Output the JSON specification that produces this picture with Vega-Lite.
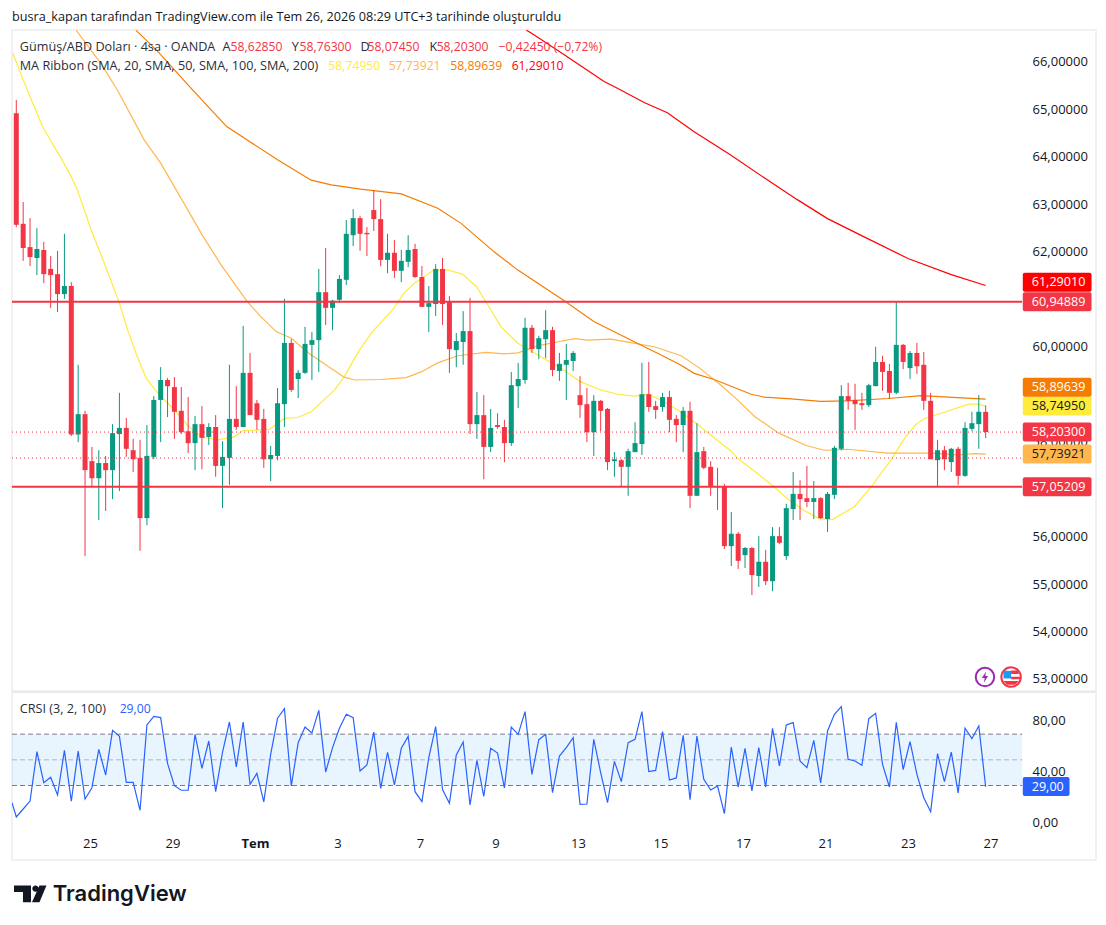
{
  "$schema": "https://vega.github.io/schema/vega-lite/v6.json",
  "background": "#ffffff",
  "padding": {"left": 10, "top": 11, "right": 0, "bottom": 0},
  "title": {
    "text": "busra_kapan tarafından TradingView.com ile Tem 26, 2026 08:29 UTC+3 tarihinde oluşturuldu",
    "anchor": "start",
    "frame": "group",
    "font": "Open Sans",
    "fontSize": 12.65,
    "fontWeight": "normal",
    "color": "#131722",
    "offset": 5
  },
  "config": {
    "view": {"stroke": "#f0f1f3", "strokeWidth": 2},
    "axis": {"domain": false, "ticks": false, "grid": false, "labelFont": "Open Sans", "labelColor": "#131722"},
    "text": {"font": "Open Sans", "fontSize": 12.2, "align": "left", "baseline": "middle"}
  },
  "datasets": {
    "one": [{}],
    "candles": [
      {"bar":0,"open":64.92,"high":65.2,"low":62.52,"close":62.57},
      {"bar":1,"open":62.59,"high":63.05,"low":61.81,"close":62.08},
      {"bar":2,"open":62.1,"high":62.71,"low":61.7,"close":61.89},
      {"bar":3,"open":61.87,"high":62.5,"low":61.51,"close":62.06},
      {"bar":4,"open":62.04,"high":62.21,"low":61.34,"close":61.53},
      {"bar":5,"open":61.64,"high":61.91,"low":60.82,"close":61.51},
      {"bar":6,"open":61.53,"high":62.02,"low":60.73,"close":61.11},
      {"bar":7,"open":61.11,"high":62.38,"low":61.01,"close":61.28},
      {"bar":8,"open":61.28,"high":61.36,"low":58.12,"close":58.15},
      {"bar":9,"open":58.15,"high":59.62,"low":57.99,"close":58.58},
      {"bar":10,"open":58.58,"high":58.65,"low":55.59,"close":57.4},
      {"bar":11,"open":57.59,"high":57.89,"low":57.05,"close":57.23},
      {"bar":12,"open":57.23,"high":57.82,"low":56.35,"close":57.55},
      {"bar":13,"open":57.55,"high":57.7,"low":56.54,"close":57.4},
      {"bar":14,"open":57.4,"high":58.37,"low":56.79,"close":58.18},
      {"bar":15,"open":58.16,"high":59.03,"low":56.96,"close":58.29},
      {"bar":16,"open":58.29,"high":58.5,"low":57.68,"close":57.85},
      {"bar":17,"open":57.82,"high":58.06,"low":57.36,"close":57.63},
      {"bar":18,"open":57.66,"high":58.04,"low":55.7,"close":56.39},
      {"bar":19,"open":56.39,"high":58.35,"low":56.24,"close":57.7},
      {"bar":20,"open":57.68,"high":58.96,"low":57.63,"close":58.88},
      {"bar":21,"open":58.88,"high":59.57,"low":57.99,"close":59.3},
      {"bar":22,"open":59.3,"high":59.34,"low":58.52,"close":59.17},
      {"bar":23,"open":59.15,"high":59.36,"low":58.06,"close":58.63},
      {"bar":24,"open":58.65,"high":59.15,"low":58.16,"close":58.2},
      {"bar":25,"open":58.22,"high":58.94,"low":57.76,"close":57.97},
      {"bar":26,"open":57.97,"high":58.54,"low":57.4,"close":58.37},
      {"bar":27,"open":58.37,"high":58.75,"low":57.42,"close":58.08},
      {"bar":28,"open":58.1,"high":58.39,"low":57.93,"close":58.31},
      {"bar":29,"open":58.31,"high":58.56,"low":57.26,"close":57.49},
      {"bar":30,"open":57.49,"high":58.01,"low":56.6,"close":57.68},
      {"bar":31,"open":57.66,"high":59.62,"low":57.09,"close":58.48},
      {"bar":32,"open":58.48,"high":59.17,"low":58.25,"close":58.31},
      {"bar":33,"open":58.31,"high":60.44,"low":58.31,"close":59.45},
      {"bar":34,"open":59.45,"high":59.87,"low":58.56,"close":58.56},
      {"bar":35,"open":58.81,"high":58.88,"low":58.25,"close":58.46},
      {"bar":36,"open":58.48,"high":58.69,"low":57.45,"close":57.63},
      {"bar":37,"open":57.63,"high":57.91,"low":57.17,"close":57.72},
      {"bar":38,"open":57.7,"high":59.13,"low":57.61,"close":58.81},
      {"bar":39,"open":58.79,"high":61.01,"low":58.31,"close":60.08},
      {"bar":40,"open":60.08,"high":60.16,"low":59.05,"close":59.09},
      {"bar":41,"open":59.32,"high":59.51,"low":58.92,"close":59.45},
      {"bar":42,"open":59.45,"high":60.42,"low":59.43,"close":60.06},
      {"bar":43,"open":60.04,"high":60.31,"low":59.3,"close":60.14},
      {"bar":44,"open":60.14,"high":61.64,"low":59.47,"close":61.15},
      {"bar":45,"open":61.15,"high":62.08,"low":60.46,"close":60.82},
      {"bar":46,"open":60.82,"high":60.99,"low":60.35,"close":60.97},
      {"bar":47,"open":60.99,"high":61.51,"low":60.94,"close":61.43},
      {"bar":48,"open":61.41,"high":62.67,"low":61.3,"close":62.38},
      {"bar":49,"open":62.35,"high":62.9,"low":62.12,"close":62.71},
      {"bar":50,"open":62.71,"high":62.76,"low":62.02,"close":62.38},
      {"bar":51,"open":62.4,"high":62.52,"low":61.91,"close":62.37},
      {"bar":52,"open":62.88,"high":63.3,"low":62.44,"close":62.69},
      {"bar":53,"open":62.69,"high":63.11,"low":61.7,"close":61.83},
      {"bar":54,"open":61.83,"high":62.38,"low":61.55,"close":61.98},
      {"bar":55,"open":61.98,"high":62.25,"low":61.45,"close":61.6},
      {"bar":56,"open":61.6,"high":62.04,"low":61.36,"close":61.81},
      {"bar":57,"open":61.79,"high":62.35,"low":61.68,"close":62.04},
      {"bar":58,"open":62.06,"high":62.17,"low":61.45,"close":61.47},
      {"bar":59,"open":61.47,"high":61.7,"low":60.84,"close":60.84},
      {"bar":60,"open":60.84,"high":61.28,"low":60.31,"close":60.92},
      {"bar":61,"open":60.9,"high":61.74,"low":60.65,"close":61.64},
      {"bar":62,"open":61.64,"high":61.87,"low":60.46,"close":60.9},
      {"bar":63,"open":60.94,"high":61.07,"low":59.45,"close":59.95},
      {"bar":64,"open":59.93,"high":60.29,"low":59.57,"close":60.12},
      {"bar":65,"open":60.1,"high":60.75,"low":59.62,"close":60.33},
      {"bar":66,"open":60.33,"high":61.03,"low":58.16,"close":58.37},
      {"bar":67,"open":58.37,"high":59.05,"low":58.06,"close":58.56},
      {"bar":68,"open":58.56,"high":58.98,"low":57.21,"close":57.89},
      {"bar":69,"open":57.89,"high":58.69,"low":57.78,"close":58.29},
      {"bar":70,"open":58.35,"high":58.6,"low":58.27,"close":58.31},
      {"bar":71,"open":58.31,"high":58.46,"low":57.57,"close":57.97},
      {"bar":72,"open":57.97,"high":59.47,"low":57.91,"close":59.19},
      {"bar":73,"open":59.17,"high":59.66,"low":58.71,"close":59.32},
      {"bar":74,"open":59.3,"high":60.61,"low":59.22,"close":60.4},
      {"bar":75,"open":60.4,"high":60.46,"low":59.87,"close":59.95},
      {"bar":76,"open":59.95,"high":60.23,"low":59.74,"close":60.18},
      {"bar":77,"open":60.16,"high":60.77,"low":59.76,"close":60.35},
      {"bar":78,"open":60.35,"high":60.42,"low":59.38,"close":59.51},
      {"bar":79,"open":59.49,"high":59.87,"low":59.28,"close":59.64},
      {"bar":80,"open":59.62,"high":60.06,"low":58.88,"close":59.72},
      {"bar":81,"open":59.7,"high":59.91,"low":59.49,"close":59.87},
      {"bar":82,"open":58.98,"high":59.38,"low":58.5,"close":58.77},
      {"bar":83,"open":58.79,"high":59.13,"low":57.99,"close":58.2},
      {"bar":84,"open":58.2,"high":58.98,"low":57.7,"close":58.86},
      {"bar":85,"open":58.86,"high":58.88,"low":58.22,"close":58.65},
      {"bar":86,"open":58.69,"high":58.71,"low":57.4,"close":57.57},
      {"bar":87,"open":57.59,"high":57.78,"low":57.26,"close":57.63},
      {"bar":88,"open":57.61,"high":57.63,"low":57.05,"close":57.47},
      {"bar":89,"open":57.47,"high":57.85,"low":56.86,"close":57.8},
      {"bar":90,"open":57.78,"high":58.41,"low":57.78,"close":57.97},
      {"bar":91,"open":57.95,"high":59.66,"low":57.72,"close":59},
      {"bar":92,"open":59,"high":59.68,"low":58.63,"close":58.73},
      {"bar":93,"open":58.75,"high":58.86,"low":58.48,"close":58.67},
      {"bar":94,"open":58.73,"high":59.03,"low":58.63,"close":58.94},
      {"bar":95,"open":58.94,"high":59.07,"low":58.2,"close":58.46},
      {"bar":96,"open":58.48,"high":58.56,"low":57.99,"close":58.35},
      {"bar":97,"open":58.35,"high":58.73,"low":57.78,"close":58.65},
      {"bar":98,"open":58.65,"high":58.84,"low":56.6,"close":56.86},
      {"bar":99,"open":56.86,"high":58.39,"low":56.86,"close":57.78},
      {"bar":100,"open":57.8,"high":57.89,"low":57.42,"close":57.45},
      {"bar":101,"open":57.47,"high":57.59,"low":56.86,"close":57.05},
      {"bar":102,"open":57.06,"high":57.45,"low":56.56,"close":57.04},
      {"bar":103,"open":57.05,"high":57.11,"low":55.74,"close":55.8},
      {"bar":104,"open":55.8,"high":56.52,"low":55.38,"close":56.06},
      {"bar":105,"open":56.06,"high":56.1,"low":55.32,"close":55.49},
      {"bar":106,"open":55.61,"high":55.78,"low":55.34,"close":55.76},
      {"bar":107,"open":55.76,"high":55.78,"low":54.77,"close":55.19},
      {"bar":108,"open":55.17,"high":56.01,"low":54.94,"close":55.47},
      {"bar":109,"open":55.47,"high":55.72,"low":54.98,"close":55.06},
      {"bar":110,"open":55.06,"high":56.2,"low":54.85,"close":56.01},
      {"bar":111,"open":56.01,"high":56.2,"low":55.84,"close":55.87},
      {"bar":112,"open":55.59,"high":56.69,"low":55.51,"close":56.6},
      {"bar":113,"open":56.58,"high":57.36,"low":56.35,"close":56.9},
      {"bar":114,"open":56.9,"high":57.19,"low":56.35,"close":56.79},
      {"bar":115,"open":56.81,"high":57.49,"low":56.62,"close":56.73},
      {"bar":116,"open":56.73,"high":57.17,"low":56.37,"close":56.81},
      {"bar":117,"open":56.81,"high":56.83,"low":56.37,"close":56.39},
      {"bar":118,"open":56.37,"high":56.94,"low":56.1,"close":56.9},
      {"bar":119,"open":56.88,"high":57.91,"low":56.79,"close":57.87},
      {"bar":120,"open":57.85,"high":59.19,"low":57.82,"close":58.96},
      {"bar":121,"open":58.96,"high":59.24,"low":58.67,"close":58.86},
      {"bar":122,"open":58.88,"high":59.22,"low":58.25,"close":58.79},
      {"bar":123,"open":58.81,"high":59.03,"low":58.67,"close":58.77},
      {"bar":124,"open":58.77,"high":59.22,"low":58.73,"close":59.19},
      {"bar":125,"open":59.17,"high":60,"low":59.17,"close":59.68},
      {"bar":126,"open":59.68,"high":59.81,"low":59.07,"close":59.47},
      {"bar":127,"open":59.49,"high":59.64,"low":58.9,"close":59.03},
      {"bar":128,"open":59.03,"high":60.94,"low":59,"close":60.04},
      {"bar":129,"open":60.04,"high":60.06,"low":59.53,"close":59.68},
      {"bar":130,"open":59.55,"high":59.91,"low":59.32,"close":59.87},
      {"bar":131,"open":59.87,"high":60.08,"low":59.43,"close":59.59},
      {"bar":132,"open":59.62,"high":59.89,"low":58.67,"close":58.86},
      {"bar":133,"open":58.86,"high":59.03,"low":57.63,"close":57.63},
      {"bar":134,"open":57.61,"high":58.04,"low":57.05,"close":57.82},
      {"bar":135,"open":57.82,"high":57.91,"low":57.4,"close":57.63},
      {"bar":136,"open":57.57,"high":57.87,"low":57.36,"close":57.85},
      {"bar":137,"open":57.85,"high":57.89,"low":57.09,"close":57.28},
      {"bar":138,"open":57.28,"high":58.41,"low":57.26,"close":58.29},
      {"bar":139,"open":58.27,"high":58.63,"low":58.22,"close":58.39},
      {"bar":140,"open":58.37,"high":58.98,"low":57.85,"close":58.63},
      {"bar":141,"open":58.6285,"high":58.763,"low":58.0745,"close":58.203}
    ],
    "ribbon": [
      {"series":"SMA 20","bar":-0.5,"price":66.18},{"series":"SMA 20","bar":0.9,"price":65.66},{"series":"SMA 20","bar":3.8,"price":64.64},{"series":"SMA 20","bar":6.8,"price":63.9},{"series":"SMA 20","bar":8,"price":63.58},{"series":"SMA 20","bar":8.9,"price":63.3},{"series":"SMA 20","bar":10.9,"price":62.46},{"series":"SMA 20","bar":12.8,"price":61.76},{"series":"SMA 20","bar":15,"price":60.92},{"series":"SMA 20","bar":16.2,"price":60.35},{"series":"SMA 20","bar":17.6,"price":59.79},{"series":"SMA 20","bar":18.9,"price":59.34},{"series":"SMA 20","bar":20.6,"price":59.02},{"series":"SMA 20","bar":23,"price":58.67},{"series":"SMA 20","bar":24.9,"price":58.35},{"series":"SMA 20","bar":26.9,"price":58.1},{"series":"SMA 20","bar":29.3,"price":58.04},{"series":"SMA 20","bar":31.7,"price":58.1},{"series":"SMA 20","bar":32.9,"price":58.23},{"series":"SMA 20","bar":36.8,"price":58.26},{"series":"SMA 20","bar":39,"price":58.49},{"series":"SMA 20","bar":40.9,"price":58.51},{"series":"SMA 20","bar":42.9,"price":58.63},{"series":"SMA 20","bar":46.3,"price":59.09},{"series":"SMA 20","bar":47.7,"price":59.37},{"series":"SMA 20","bar":49.9,"price":59.93},{"series":"SMA 20","bar":51.8,"price":60.32},{"series":"SMA 20","bar":54.7,"price":60.77},{"series":"SMA 20","bar":56.4,"price":61.13},{"series":"SMA 20","bar":57.9,"price":61.34},{"series":"SMA 20","bar":60.6,"price":61.6},{"series":"SMA 20","bar":62.7,"price":61.62},{"series":"SMA 20","bar":64.9,"price":61.53},{"series":"SMA 20","bar":66.9,"price":61.27},{"series":"SMA 20","bar":68.6,"price":60.88},{"series":"SMA 20","bar":70.5,"price":60.42},{"series":"SMA 20","bar":73,"price":60.07},{"series":"SMA 20","bar":75.8,"price":59.83},{"series":"SMA 20","bar":79.2,"price":59.55},{"series":"SMA 20","bar":82.1,"price":59.26},{"series":"SMA 20","bar":85,"price":59.09},{"series":"SMA 20","bar":87.5,"price":59},{"series":"SMA 20","bar":89.9,"price":58.96},{"series":"SMA 20","bar":91.8,"price":59},{"series":"SMA 20","bar":93.8,"price":58.88},{"series":"SMA 20","bar":96.2,"price":58.67},{"series":"SMA 20","bar":98.6,"price":58.42},{"series":"SMA 20","bar":101,"price":58.14},{"series":"SMA 20","bar":103.9,"price":57.81},{"series":"SMA 20","bar":104.9,"price":57.65},{"series":"SMA 20","bar":107.8,"price":57.33},{"series":"SMA 20","bar":110.3,"price":57.04},{"series":"SMA 20","bar":112.2,"price":56.79},{"series":"SMA 20","bar":114.6,"price":56.55},{"series":"SMA 20","bar":116.8,"price":56.38},{"series":"SMA 20","bar":118.7,"price":56.36},{"series":"SMA 20","bar":121.9,"price":56.63},{"series":"SMA 20","bar":124.3,"price":57.04},{"series":"SMA 20","bar":127.2,"price":57.61},{"series":"SMA 20","bar":129.2,"price":58.07},{"series":"SMA 20","bar":130.9,"price":58.37},{"series":"SMA 20","bar":132.1,"price":58.49},{"series":"SMA 20","bar":135,"price":58.62},{"series":"SMA 20","bar":137.4,"price":58.74},{"series":"SMA 20","bar":138.6,"price":58.79},{"series":"SMA 20","bar":139.8,"price":58.79},{"series":"SMA 20","bar":141,"price":58.7495},
      {"series":"SMA 50","bar":8.7,"price":66.67},{"series":"SMA 50","bar":12.3,"price":65.97},{"series":"SMA 50","bar":14.7,"price":65.41},{"series":"SMA 50","bar":18.6,"price":64.36},{"series":"SMA 50","bar":21,"price":63.87},{"series":"SMA 50","bar":24.4,"price":63.02},{"series":"SMA 50","bar":26.9,"price":62.39},{"series":"SMA 50","bar":29.8,"price":61.72},{"series":"SMA 50","bar":33.6,"price":60.95},{"series":"SMA 50","bar":35.6,"price":60.63},{"series":"SMA 50","bar":37.8,"price":60.32},{"series":"SMA 50","bar":40,"price":60.18},{"series":"SMA 50","bar":42.6,"price":59.86},{"series":"SMA 50","bar":45,"price":59.62},{"series":"SMA 50","bar":47.7,"price":59.36},{"series":"SMA 50","bar":49.2,"price":59.3},{"series":"SMA 50","bar":53,"price":59.31},{"series":"SMA 50","bar":56.7,"price":59.35},{"series":"SMA 50","bar":58.9,"price":59.47},{"series":"SMA 50","bar":61.3,"price":59.66},{"series":"SMA 50","bar":64.2,"price":59.81},{"series":"SMA 50","bar":68.3,"price":59.88},{"series":"SMA 50","bar":71,"price":59.85},{"series":"SMA 50","bar":73,"price":59.87},{"series":"SMA 50","bar":75.8,"price":60.02},{"series":"SMA 50","bar":78.3,"price":60.09},{"series":"SMA 50","bar":81.2,"price":60.17},{"series":"SMA 50","bar":83.1,"price":60.14},{"series":"SMA 50","bar":86.5,"price":60.16},{"series":"SMA 50","bar":90.4,"price":60.06},{"series":"SMA 50","bar":92.8,"price":60},{"series":"SMA 50","bar":96.7,"price":59.81},{"series":"SMA 50","bar":99.4,"price":59.55},{"series":"SMA 50","bar":102.5,"price":59.19},{"series":"SMA 50","bar":104.9,"price":58.88},{"series":"SMA 50","bar":107.4,"price":58.53},{"series":"SMA 50","bar":110.9,"price":58.18},{"series":"SMA 50","bar":114.9,"price":57.92},{"series":"SMA 50","bar":117.5,"price":57.82},{"series":"SMA 50","bar":120.9,"price":57.84},{"series":"SMA 50","bar":126.8,"price":57.76},{"series":"SMA 50","bar":133,"price":57.76},{"series":"SMA 50","bar":136.9,"price":57.72},{"series":"SMA 50","bar":139.4,"price":57.75},{"series":"SMA 50","bar":141,"price":57.73921},
      {"series":"SMA 100","bar":17.4,"price":66.67},{"series":"SMA 100","bar":20.6,"price":66.22},{"series":"SMA 100","bar":25.4,"price":65.45},{"series":"SMA 100","bar":30.6,"price":64.64},{"series":"SMA 100","bar":38,"price":63.94},{"series":"SMA 100","bar":42.9,"price":63.51},{"series":"SMA 100","bar":45.8,"price":63.41},{"series":"SMA 100","bar":50.1,"price":63.32},{"series":"SMA 100","bar":56,"price":63.22},{"series":"SMA 100","bar":61.3,"price":62.92},{"series":"SMA 100","bar":64.7,"price":62.6},{"series":"SMA 100","bar":69.5,"price":62},{"series":"SMA 100","bar":72.9,"price":61.62},{"series":"SMA 100","bar":79.7,"price":60.97},{"series":"SMA 100","bar":84,"price":60.53},{"series":"SMA 100","bar":90.4,"price":60.07},{"series":"SMA 100","bar":94.3,"price":59.79},{"series":"SMA 100","bar":96.7,"price":59.61},{"series":"SMA 100","bar":98.6,"price":59.44},{"series":"SMA 100","bar":101.5,"price":59.31},{"series":"SMA 100","bar":106.9,"price":59},{"series":"SMA 100","bar":108.8,"price":58.94},{"series":"SMA 100","bar":112.7,"price":58.9},{"series":"SMA 100","bar":117,"price":58.85},{"series":"SMA 100","bar":120.9,"price":58.86},{"series":"SMA 100","bar":126.8,"price":58.91},{"series":"SMA 100","bar":131.6,"price":58.97},{"series":"SMA 100","bar":136.9,"price":58.93},{"series":"SMA 100","bar":141,"price":58.89639},
      {"series":"SMA 200","bar":74.2,"price":66.67},{"series":"SMA 200","bar":74.9,"price":66.61},{"series":"SMA 200","bar":79.7,"price":66.15},{"series":"SMA 200","bar":85.5,"price":65.59},{"series":"SMA 200","bar":87.5,"price":65.44},{"series":"SMA 200","bar":91.4,"price":65.14},{"series":"SMA 200","bar":94.7,"price":64.93},{"series":"SMA 200","bar":98.6,"price":64.53},{"series":"SMA 200","bar":103.8,"price":64.05},{"series":"SMA 200","bar":108.8,"price":63.56},{"series":"SMA 200","bar":113.6,"price":63.1},{"series":"SMA 200","bar":118,"price":62.7},{"series":"SMA 200","bar":123.4,"price":62.31},{"series":"SMA 200","bar":129.7,"price":61.86},{"series":"SMA 200","bar":136,"price":61.52},{"series":"SMA 200","bar":141,"price":61.2901}
    ],
    "levels": [{"price":60.94889},{"price":57.05209}],
    "dotted": [{"price":58.203},{"price":57.656}],
    "tags": [
      {"tag_at":61.36,"label":"61,29010","series":"SMA 200"},
      {"tag_at":60.94889,"label":"60,94889","series":"Fiyat"},
      {"tag_at":58.75,"label":"58,74950","series":"SMA 20"},
      {"tag_at":59.146,"label":"58,89639","series":"SMA 100"},
      {"tag_at":58.203,"label":"58,20300","series":"Fiyat"},
      {"tag_at":57.73921,"label":"57,73921","series":"SMA 50"},
      {"tag_at":57.05209,"label":"57,05209","series":"Fiyat"}
    ],
    "crsi": [
      {"bar":-0.625,"crsi":16.6},{"bar":0,"crsi":5.5},{"bar":1,"crsi":11.7},{"bar":2,"crsi":17.9},{"bar":3,"crsi":56.4},{"bar":4,"crsi":32.2},{"bar":5,"crsi":36.4},{"bar":6,"crsi":22.6},{"bar":7,"crsi":57.4},{"bar":8,"crsi":17.7},{"bar":9,"crsi":56.9},{"bar":10,"crsi":19.5},{"bar":11,"crsi":28.3},{"bar":12,"crsi":58.2},{"bar":13,"crsi":38.2},{"bar":14,"crsi":73},{"bar":15,"crsi":68.3},{"bar":16,"crsi":32.5},{"bar":17,"crsi":32.5},{"bar":18,"crsi":10.7},{"bar":19,"crsi":77.2},{"bar":20,"crsi":83.9},{"bar":21,"crsi":82.9},{"bar":22,"crsi":47.3},{"bar":23,"crsi":29.9},{"bar":24,"crsi":26.3},{"bar":25,"crsi":26.3},{"bar":26,"crsi":69.9},{"bar":27,"crsi":43.4},{"bar":28,"crsi":64.7},{"bar":29,"crsi":25.2},{"bar":30,"crsi":56.1},{"bar":31,"crsi":79.5},{"bar":32,"crsi":44.4},{"bar":33,"crsi":79.5},{"bar":34,"crsi":30.9},{"bar":35,"crsi":39.5},{"bar":36,"crsi":17.2},{"bar":37,"crsi":54.3},{"bar":38,"crsi":82.4},{"bar":39,"crsi":89.9},{"bar":40,"crsi":29.6},{"bar":41,"crsi":63.4},{"bar":42,"crsi":75.6},{"bar":43,"crsi":70.9},{"bar":44,"crsi":88.6},{"bar":45,"crsi":40.5},{"bar":46,"crsi":59.5},{"bar":47,"crsi":74.6},{"bar":48,"crsi":85.5},{"bar":49,"crsi":82.9},{"bar":50,"crsi":41.3},{"bar":51,"crsi":46},{"bar":52,"crsi":71.7},{"bar":53,"crsi":27.8},{"bar":54,"crsi":55.9},{"bar":55,"crsi":30.4},{"bar":56,"crsi":59},{"bar":57,"crsi":68.3},{"bar":58,"crsi":25.2},{"bar":59,"crsi":17.4},{"bar":60,"crsi":51.7},{"bar":61,"crsi":75.9},{"bar":62,"crsi":26.8},{"bar":63,"crsi":16.1},{"bar":64,"crsi":53.8},{"bar":65,"crsi":63.9},{"bar":66,"crsi":14.8},{"bar":67,"crsi":49.6},{"bar":68,"crsi":21.6},{"bar":69,"crsi":59},{"bar":70,"crsi":55.3},{"bar":71,"crsi":28.1},{"bar":72,"crsi":75.6},{"bar":73,"crsi":69.9},{"bar":74,"crsi":87.6},{"bar":75,"crsi":38.7},{"bar":76,"crsi":65.7},{"bar":77,"crsi":69.9},{"bar":78,"crsi":24.4},{"bar":79,"crsi":53},{"bar":80,"crsi":59.5},{"bar":81,"crsi":67.3},{"bar":82,"crsi":15.3},{"bar":83,"crsi":15.6},{"bar":84,"crsi":66},{"bar":85,"crsi":40},{"bar":86,"crsi":16.6},{"bar":87,"crsi":48.8},{"bar":88,"crsi":33},{"bar":89,"crsi":63.4},{"bar":90,"crsi":66},{"bar":91,"crsi":87.6},{"bar":92,"crsi":40.8},{"bar":93,"crsi":41.8},{"bar":94,"crsi":72},{"bar":95,"crsi":34.3},{"bar":96,"crsi":35.9},{"bar":97,"crsi":69.1},{"bar":98,"crsi":19},{"bar":99,"crsi":68.6},{"bar":100,"crsi":34.8},{"bar":101,"crsi":26.5},{"bar":102,"crsi":29.6},{"bar":103,"crsi":8.1},{"bar":104,"crsi":60},{"bar":105,"crsi":28.8},{"bar":106,"crsi":59},{"bar":107,"crsi":25.7},{"bar":108,"crsi":59.5},{"bar":109,"crsi":28.8},{"bar":110,"crsi":74.6},{"bar":111,"crsi":45.2},{"bar":112,"crsi":77.2},{"bar":113,"crsi":79},{"bar":114,"crsi":49.1},{"bar":115,"crsi":43.9},{"bar":116,"crsi":65.2},{"bar":117,"crsi":32},{"bar":118,"crsi":72.5},{"bar":119,"crsi":85.5},{"bar":120,"crsi":91.5},{"bar":121,"crsi":50.4},{"bar":122,"crsi":49.1},{"bar":123,"crsi":45.7},{"bar":124,"crsi":82.1},{"bar":125,"crsi":86.3},{"bar":126,"crsi":46.5},{"bar":127,"crsi":28.8},{"bar":128,"crsi":79.2},{"bar":129,"crsi":42.3},{"bar":130,"crsi":64.2},{"bar":131,"crsi":38.7},{"bar":132,"crsi":20.5},{"bar":133,"crsi":9.6},{"bar":134,"crsi":54.8},{"bar":135,"crsi":33},{"bar":136,"crsi":56.1},{"bar":137,"crsi":24.2},{"bar":138,"crsi":74.6},{"bar":139,"crsi":66.5},{"bar":140,"crsi":76.4},{"bar":141,"crsi":29}
    ],
    "bands": [{"crsi":70},{"crsi":30}]
  },
  "spacing": -2,
  "vconcat": [
    {
      "width": 1084,
      "height": 661,
      "layer": [
        {
          "data": {"name": "ribbon"},
          "mark": {"type": "line", "strokeWidth": 1.2, "clip": true},
          "encoding": {
            "x": {"field": "bar", "type": "quantitative", "axis": null, "scale": {"domain": [-0.625, 157.05], "nice": false, "zero": false, "padding": 0}},
            "y": {
              "field": "price", "type": "quantitative",
              "scale": {"domain": [52.747, 66.674], "nice": false, "zero": false},
              "axis": {"title": null, "orient": "right", "offset": -64, "labelPadding": 0, "values": [53,54,55,56,58,60,62,63,64,65,66], "labelAlign": "left", "labelFontSize": 13, "labelExpr": "replace(format(datum.value,'.5f'),'.',',')"}
            },
            "color": {"field": "series", "type": "nominal", "legend": null, "scale": {"domain": ["SMA 20","SMA 50","SMA 100","SMA 200","Fiyat"], "range": ["#ffeb3b","#ffb74d","#f57c00","#ff0000","#f23645"]}},
            "detail": {"field": "series"}
          }
        },
        {
          "data": {"name": "candles"},
          "mark": {"type": "rule", "strokeWidth": 1},
          "encoding": {
            "x": {"field": "bar", "type": "quantitative", "axis": null},
            "y": {"field": "low", "type": "quantitative"},
            "y2": {"field": "high"},
            "color": {"condition": {"test": "datum.close >= datum.open", "value": "#089981"}, "value": "#f23645"}
          }
        },
        {
          "data": {"name": "candles"},
          "mark": {"type": "bar", "size": 5},
          "encoding": {
            "x": {"field": "bar", "type": "quantitative", "axis": null},
            "y": {"field": "open", "type": "quantitative"},
            "y2": {"field": "close"},
            "color": {"condition": {"test": "datum.close >= datum.open", "value": "#089981"}, "value": "#f23645"}
          }
        },
        {
          "data": {"name": "levels"},
          "mark": {"type": "rule", "strokeWidth": 2, "color": "#f23645"},
          "encoding": {
            "x": {"datum": -0.625, "type": "quantitative", "axis": null},
            "x2": {"datum": 146.3},
            "y": {"field": "price", "type": "quantitative"}
          }
        },
        {
          "data": {"name": "dotted"},
          "mark": {"type": "rule", "strokeWidth": 1, "strokeDash": [1, 3], "color": "#f23645"},
          "encoding": {
            "x": {"datum": -0.625, "type": "quantitative", "axis": null},
            "x2": {"datum": 146.3},
            "y": {"field": "price", "type": "quantitative"}
          }
        },
        {
          "data": {"name": "tags"},
          "mark": {"type": "rect", "height": 19, "cornerRadius": 2},
          "encoding": {
            "x": {"datum": 146.4, "type": "quantitative", "axis": null},
            "x2": {"datum": 156.4},
            "y": {"field": "tag_at", "type": "quantitative"},
            "color": {"field": "series", "type": "nominal", "legend": null}
          }
        },
        {
          "data": {"name": "tags"},
          "mark": {"type": "text", "fontSize": 12.6},
          "encoding": {
            "x": {"datum": 147.7, "type": "quantitative", "axis": null},
            "y": {"field": "tag_at", "type": "quantitative"},
            "text": {"field": "label"},
            "color": {"condition": {"test": "datum.series == 'SMA 20' || datum.series == 'SMA 50'", "value": "#131722"}, "value": "#ffffff"}
          }
        },
        {"data": {"name": "one"}, "mark": {"type": "text", "text": "Gümüş/ABD Doları · 4sa · OANDA", "color": "#2a2e39", "fontSize": 12.65}, "encoding": {"x": {"datum": 0.5, "type": "quantitative", "axis": null}, "y": {"datum": 66.32, "type": "quantitative"}}},
        {"data": {"name": "one"}, "mark": {"type": "text", "text": "A", "color": "#2a2e39", "fontSize": 12.65}, "encoding": {"x": {"datum": 30, "type": "quantitative", "axis": null}, "y": {"datum": 66.32, "type": "quantitative"}}},
        {"data": {"name": "one"}, "mark": {"type": "text", "text": "58,62850", "color": "#f23645"}, "encoding": {"x": {"datum": 31.17, "type": "quantitative", "axis": null}, "y": {"datum": 66.32, "type": "quantitative"}}},
        {"data": {"name": "one"}, "mark": {"type": "text", "text": "Y", "color": "#2a2e39", "fontSize": 12.65}, "encoding": {"x": {"datum": 40.05, "type": "quantitative", "axis": null}, "y": {"datum": 66.32, "type": "quantitative"}}},
        {"data": {"name": "one"}, "mark": {"type": "text", "text": "58,76300", "color": "#f23645"}, "encoding": {"x": {"datum": 41.21, "type": "quantitative", "axis": null}, "y": {"datum": 66.32, "type": "quantitative"}}},
        {"data": {"name": "one"}, "mark": {"type": "text", "text": "D", "color": "#2a2e39", "fontSize": 12.65}, "encoding": {"x": {"datum": 50.08, "type": "quantitative", "axis": null}, "y": {"datum": 66.32, "type": "quantitative"}}},
        {"data": {"name": "one"}, "mark": {"type": "text", "text": "58,07450", "color": "#f23645"}, "encoding": {"x": {"datum": 51.1, "type": "quantitative", "axis": null}, "y": {"datum": 66.32, "type": "quantitative"}}},
        {"data": {"name": "one"}, "mark": {"type": "text", "text": "K", "color": "#2a2e39", "fontSize": 12.65}, "encoding": {"x": {"datum": 60.1, "type": "quantitative", "axis": null}, "y": {"datum": 66.32, "type": "quantitative"}}},
        {"data": {"name": "one"}, "mark": {"type": "text", "text": "58,20300", "color": "#f23645"}, "encoding": {"x": {"datum": 61.14, "type": "quantitative", "axis": null}, "y": {"datum": 66.32, "type": "quantitative"}}},
        {"data": {"name": "one"}, "mark": {"type": "text", "text": "−0,42450 (−0,72%)", "color": "#f23645"}, "encoding": {"x": {"datum": 70.16, "type": "quantitative", "axis": null}, "y": {"datum": 66.32, "type": "quantitative"}}},
        {"data": {"name": "one"}, "mark": {"type": "text", "text": "MA Ribbon (SMA, 20, SMA, 50, SMA, 100, SMA, 200)", "color": "#2a2e39", "fontSize": 12.65}, "encoding": {"x": {"datum": 0.5, "type": "quantitative", "axis": null}, "y": {"datum": 65.92, "type": "quantitative"}}},
        {"data": {"name": "one"}, "mark": {"type": "text", "text": "58,74950", "color": "#ffeb3b"}, "encoding": {"x": {"datum": 45.39, "type": "quantitative", "axis": null}, "y": {"datum": 65.92, "type": "quantitative"}}},
        {"data": {"name": "one"}, "mark": {"type": "text", "text": "57,73921", "color": "#ffb74d"}, "encoding": {"x": {"datum": 54.16, "type": "quantitative", "axis": null}, "y": {"datum": 65.92, "type": "quantitative"}}},
        {"data": {"name": "one"}, "mark": {"type": "text", "text": "58,89639", "color": "#f57c00"}, "encoding": {"x": {"datum": 63.13, "type": "quantitative", "axis": null}, "y": {"datum": 65.92, "type": "quantitative"}}},
        {"data": {"name": "one"}, "mark": {"type": "text", "text": "61,29010", "color": "#ff0000"}, "encoding": {"x": {"datum": 72.05, "type": "quantitative", "axis": null}, "y": {"datum": 65.92, "type": "quantitative"}}},
        {"data": {"name": "one"}, "mark": {"type": "point", "shape": "circle", "size": 340, "filled": false, "stroke": "#9c27b0", "strokeWidth": 2, "opacity": 1}, "encoding": {"x": {"datum": 140.9, "type": "quantitative", "axis": null}, "y": {"datum": 53.04, "type": "quantitative"}}},
        {"data": {"name": "one"}, "mark": {"type": "point", "shape": "M0.2,-1 L-0.55,0.15 L-0.05,0.15 L-0.2,1 L0.55,-0.2 L0.05,-0.2 Z", "size": 130, "filled": true, "fill": "#9c27b0", "opacity": 1}, "encoding": {"x": {"datum": 140.9, "type": "quantitative", "axis": null}, "y": {"datum": 53.04, "type": "quantitative"}}},
        {"data": {"name": "one"}, "mark": {"type": "point", "shape": "circle", "size": 380, "filled": false, "stroke": "#f23645", "strokeWidth": 2, "opacity": 1}, "encoding": {"x": {"datum": 144.7, "type": "quantitative", "axis": null}, "y": {"datum": 53.04, "type": "quantitative"}}},
        {"data": {"name": "one"}, "mark": {"type": "point", "shape": "M0,-0.75 H0.85 V-0.35 H0 Z M0,-0.05 H1 V0.25 H0 Z M-0.85,0.45 H0.85 L0.45,0.85 H-0.45 Z", "size": 320, "filled": true, "fill": "#f23645", "opacity": 1}, "encoding": {"x": {"datum": 144.7, "type": "quantitative", "axis": null}, "y": {"datum": 53.04, "type": "quantitative"}}},
        {"data": {"name": "one"}, "mark": {"type": "point", "shape": "M-0.85,-0.7 H0 V0.15 H-0.85 Z", "size": 320, "filled": true, "fill": "#2196f3", "opacity": 1}, "encoding": {"x": {"datum": 144.7, "type": "quantitative", "axis": null}, "y": {"datum": 53.04, "type": "quantitative"}}}
      ]
    },
    {
      "width": 1084,
      "height": 168,
      "layer": [
        {
          "data": {"name": "one"},
          "mark": {"type": "rect", "color": "#2196f3", "opacity": 0.1},
          "encoding": {
            "x": {"datum": -0.625, "type": "quantitative"},
            "x2": {"datum": 146.3},
            "y": {"datum": 70, "type": "quantitative"},
            "y2": {"datum": 30}
          }
        },
        {
          "data": {"name": "bands"},
          "mark": {"type": "rule", "strokeWidth": 1, "strokeDash": [5, 3], "color": "#787b86"},
          "encoding": {
            "x": {"datum": -0.625, "type": "quantitative"},
            "x2": {"datum": 146.3},
            "y": {"field": "crsi", "type": "quantitative"}
          }
        },
        {
          "data": {"name": "one"},
          "mark": {"type": "rule", "strokeWidth": 1, "strokeDash": [5, 3], "color": "#787b86", "opacity": 0.5},
          "encoding": {
            "x": {"datum": -0.625, "type": "quantitative"},
            "x2": {"datum": 146.3},
            "y": {"datum": 50, "type": "quantitative"}
          }
        },
        {
          "data": {"name": "one"},
          "mark": {"type": "rule", "strokeWidth": 1, "color": "#e0e3eb"},
          "encoding": {
            "x": {"datum": -0.625, "type": "quantitative"},
            "x2": {"datum": 157.05},
            "y": {"datum": 102.88, "type": "quantitative"}
          }
        },
        {
          "data": {"name": "crsi"},
          "mark": {"type": "line", "strokeWidth": 1.2, "color": "#2962ff", "clip": true},
          "encoding": {
            "x": {
              "field": "bar", "type": "quantitative",
              "scale": {"domain": [-0.625, 157.05], "nice": false, "zero": false},
              "axis": {
                "title": null,
                "orient": "bottom",
                "offset": -23,
                "labelPadding": 0,
                "labelOffset": -2,
                "values": [11, 23, 35, 47, 59, 70, 82, 94, 106, 118, 130, 142],
                "labelBaseline": "top",
                "labelFontSize": 13,
                "labelFlush": false,
                "labelOverlap": false,
                "labelFontWeight": {"condition": {"test": "datum.value == 35", "value": "bold"}, "value": "normal"},
                "labelExpr": "{'11':'25','23':'29','35':'Tem','47':'3','59':'7','70':'9','82':'13','94':'15','106':'17','118':'21','130':'23','142':'27'}[datum.value]"
              }
            },
            "y": {
              "field": "crsi", "type": "quantitative",
              "scale": {"domain": [-28.06, 102.88], "nice": false, "zero": false},
              "axis": {"title": null, "orient": "right", "offset": -64, "labelPadding": 0, "labelOffset": -1, "values": [0, 40, 80], "labelAlign": "left", "labelFontSize": 13, "labelExpr": "replace(format(datum.value,'.2f'),'.',',')"}
            }
          }
        },
        {
          "data": {"name": "one"},
          "mark": {"type": "rect", "height": 19, "cornerRadius": 2, "color": "#2962ff"},
          "encoding": {
            "x": {"datum": 146.4, "type": "quantitative"},
            "x2": {"datum": 153.2},
            "y": {"datum": 29.2, "type": "quantitative"}
          }
        },
        {"data": {"name": "one"}, "mark": {"type": "text", "text": "29,00", "color": "#ffffff", "fontSize": 12.6}, "encoding": {"x": {"datum": 147.7, "type": "quantitative"}, "y": {"datum": 29.2, "type": "quantitative"}}},
        {"data": {"name": "one"}, "mark": {"type": "text", "text": "CRSI (3, 2, 100)", "color": "#2a2e39", "fontSize": 12.65}, "encoding": {"x": {"datum": 0.5, "type": "quantitative"}, "y": {"datum": 89.6, "type": "quantitative"}}},
        {"data": {"name": "one"}, "mark": {"type": "text", "text": "29,00", "color": "#2962ff"}, "encoding": {"x": {"datum": 15.03, "type": "quantitative"}, "y": {"datum": 89.6, "type": "quantitative"}}}
      ]
    },
    {
      "width": 1084,
      "height": 60,
      "view": {"stroke": null},
      "data": {"name": "one"},
      "layer": [
        {
          "mark": {"type": "point", "shape": "M-1,-0.525 H0.0625 V0.519 H-0.4375 V-0.119 H-1 Z M0.144,-0.3375 a0.2,0.2 0 1,0 0.4,0 a0.2,0.2 0 1,0 -0.4,0 Z M1.03,-0.525 H0.594 L0.125,0.519 H0.594 Z", "size": 1024, "filled": true, "fill": "#131722", "opacity": 1},
          "encoding": {
            "x": {"datum": 1.99, "type": "quantitative", "axis": null, "scale": {"domain": [-0.625, 157.05], "nice": false, "zero": false}},
            "y": {"datum": 0.45, "type": "quantitative", "axis": null, "scale": {"domain": [0, 1], "nice": false, "zero": false}}
          }
        },
        {
          "mark": {"type": "text", "text": "TradingView", "font": "Inter", "fontSize": 22, "fontWeight": 600, "color": "#131722"},
          "encoding": {
            "x": {"datum": 5.3, "type": "quantitative", "axis": null},
            "y": {"datum": 0.45, "type": "quantitative", "axis": null}
          }
        }
      ]
    }
  ]
}
